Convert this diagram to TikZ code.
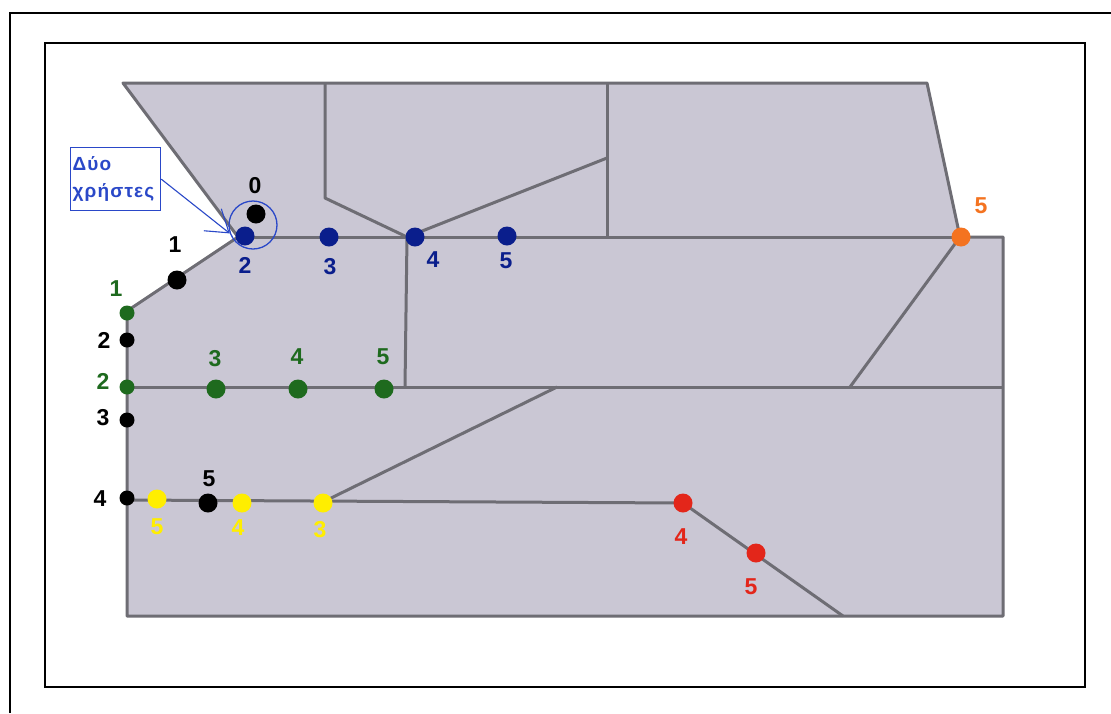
\documentclass[tikz,border=0pt]{standalone}
\usepackage{fontspec}
\setmainfont{Liberation Sans}
\usetikzlibrary{arrows.meta}
\definecolor{fieldfill}{HTML}{CAC7D4}
\definecolor{edgegray}{HTML}{6E6D74}
\definecolor{navy}{HTML}{0A1E8C}
\definecolor{leaf}{HTML}{1E6A1E}
\definecolor{sun}{HTML}{FFEE00}
\definecolor{fire}{HTML}{E3261A}
\definecolor{amber}{HTML}{F47320}
\definecolor{noteblue}{HTML}{2A48C8}
\begin{document}
\begin{tikzpicture}[x=1pt,y=-1pt,
  dot/.style={circle, inner sep=0pt, minimum size=19pt, fill=#1},
  sdot/.style={circle, inner sep=0pt, minimum size=15pt, fill=#1},
  lbl/.style={text=#1, inner sep=0pt, font=\fontsize{23}{23}\selectfont\bfseries},
  fieldedge/.style={draw=edgegray, line width=3pt, line join=round}]
\useasboundingbox (0,0) rectangle (1111,713);
\fill[white] (0,0) rectangle (1111,713);

% frames
\draw[line width=2.6pt] (10,713) -- (10,13) -- (1111,13);
\draw[line width=2.8pt] (45,43) rectangle (1085,687);

% outline of the field
\coordinate (tl) at (123,83);
\coordinate (tr) at (927,83);
\coordinate (ro) at (960,237);
\coordinate (re) at (1003,237);
\coordinate (br) at (1003,616);
\coordinate (bl) at (127,616);
\coordinate (lg) at (127,311);
\coordinate (apex) at (238,237);
\filldraw[fill=fieldfill, fieldedge] (tl) -- (tr) -- (ro) -- (re) -- (br) -- (bl) -- (lg) -- (apex) -- cycle;

% inner borders
\coordinate (j4) at (407,237);
\draw[fieldedge] (apex) -- (ro);
\draw[fieldedge] (325,83) -- (325,198) -- (j4);
\draw[fieldedge] (j4) -- (607,158);
\draw[fieldedge] (607,83) -- (607,237);
\draw[fieldedge] (j4) -- (405,387);
\draw[fieldedge] (127,387) -- (1003,387);
\draw[fieldedge] (850,387) -- (ro);
\draw[fieldedge] (323,502) -- (557,387);
\draw[fieldedge] (127,500) -- (683,503) -- (843,616);

% blue route
\node[dot=navy] (b2) at (245,236) {};
\node[dot=navy] (b3) at (329,237) {};
\node[dot=navy] (b4) at (415,237) {};
\node[dot=navy] (b5) at (507,236) {};
\node[lbl=navy] (lb2) at (245,265) {2};
\node[lbl=navy] (lb3) at (330,267) {3};
\node[lbl=navy] (lb4) at (433,260) {4};
\node[lbl=navy] (lb5) at (506,261) {5};

% black route
\node[dot=black] (k0) at (256,214) {};
\node[dot=black] (k1) at (177,280) {};
\node[sdot=black] (k2) at (127,340) {};
\node[sdot=black] (k3) at (127,420) {};
\node[sdot=black] (k4) at (127,498) {};
\node[dot=black] (k5) at (208,503) {};
\node[lbl=black] (lk0) at (255,186) {0};
\node[lbl=black] (lk1) at (175,245) {1};
\node[lbl=black] (lk2) at (104,340) {2};
\node[lbl=black] (lk3) at (103,418) {3};
\node[lbl=black] (lk4) at (100,499) {4};
\node[lbl=black] (lk5) at (209,479) {5};

% green route
\node[sdot=leaf] (g1) at (127,313) {};
\node[sdot=leaf] (g2) at (127,387) {};
\node[dot=leaf] (g3) at (216,389) {};
\node[dot=leaf] (g4) at (298,389) {};
\node[dot=leaf] (g5) at (384,389) {};
\node[lbl=leaf] (lg1) at (116,289) {1};
\node[lbl=leaf] (lg2) at (103,381) {2};
\node[lbl=leaf] (lg3) at (215,359) {3};
\node[lbl=leaf] (lg4) at (297,357) {4};
\node[lbl=leaf] (lg5) at (383,357) {5};

% yellow route
\node[dot=sun] (y5) at (157,499) {};
\node[dot=sun] (y4) at (242,503) {};
\node[dot=sun] (y3) at (323,503) {};
\node[lbl=sun] (ly5) at (157,527) {5};
\node[lbl=sun] (ly4) at (238,528) {4};
\node[lbl=sun] (ly3) at (320,530) {3};

% red route
\node[dot=fire] (r4) at (683,503) {};
\node[dot=fire] (r5) at (756,553) {};
\node[lbl=fire] (lr4) at (681,537) {4};
\node[lbl=fire] (lr5) at (751,587) {5};

% orange point
\node[dot=amber] (o5) at (961,237) {};
\node[lbl=amber] (lo5) at (981,206) {5};

% note on the shared start
\node[circle, draw=noteblue, line width=1.3pt, minimum size=48pt, inner sep=0pt] (pair) at (253,225) {};
\node[draw=noteblue, line width=1.3pt, text=noteblue, anchor=north west,
      text width=86pt, align=left, minimum height=63pt, inner sep=2pt,
      font=\fontsize{19}{27}\selectfont\bfseries\addfontfeatures{LetterSpace=6}] (note) at (70,147) {Δύο\\χρήστες};
\draw[noteblue, line width=1.1pt, -{Straight Barb[length=21pt,width=28pt]}] (note.east) -- (pair.200);
\end{tikzpicture}
\end{document}
